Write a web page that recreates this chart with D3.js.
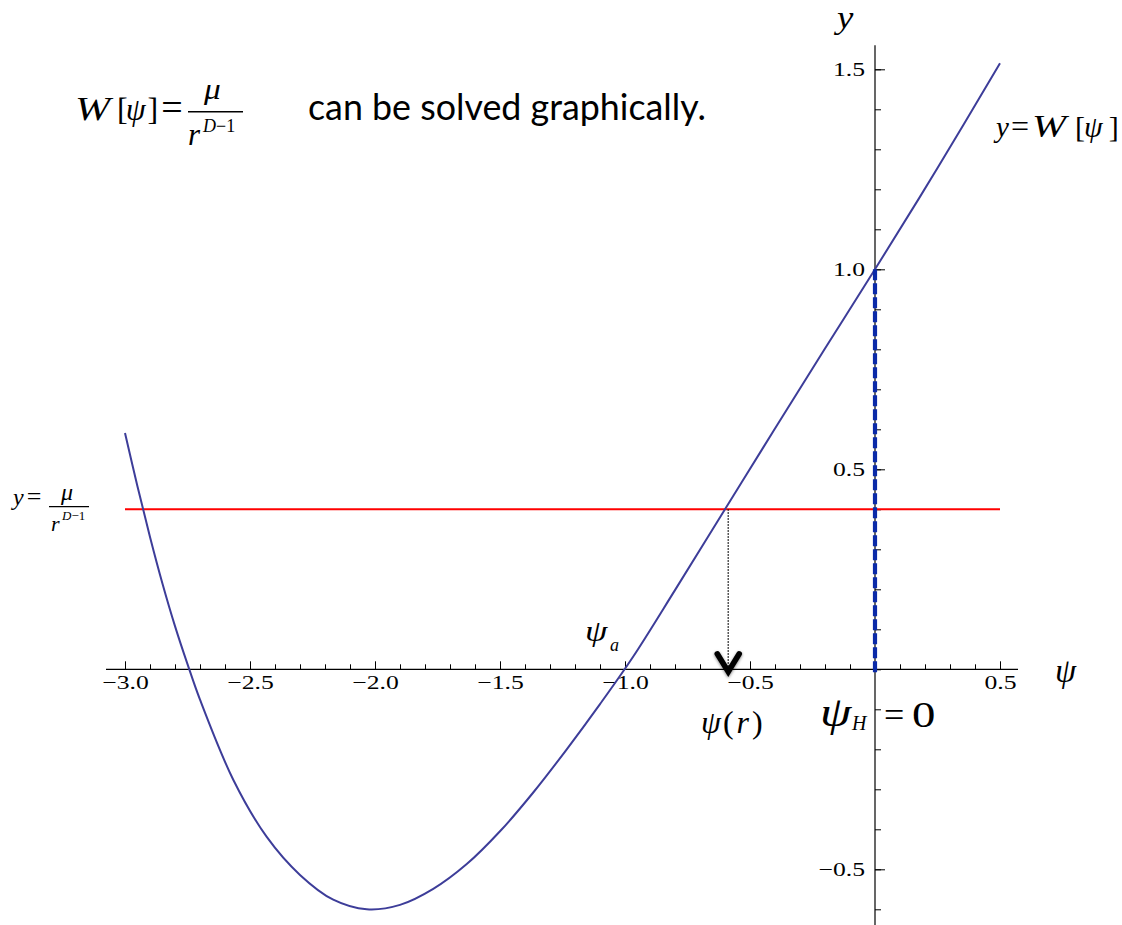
<!DOCTYPE html>
<html>
<head>
<meta charset="utf-8">
<script src="https://cdn.jsdelivr.net/npm/d3@7"></script>
<style>
  html, body { margin: 0; padding: 0; background: #ffffff; }
  svg { display: block; }
</style>
</head>
<body>
<svg id="chart" width="1122" height="925"></svg>
<script>
// W[ψ] sampled along the plotted range
const psiValues = [-3.000, -2.950, -2.900, -2.850, -2.800, -2.750, -2.700, -2.567, -2.433, -2.300,
                   -2.167, -2.033, -1.900, -1.767, -1.633, -1.500, -1.367, -1.233, -1.100, -0.967,
                   -0.800, -0.600, -0.400, -0.200, 0.000, 0.250, 0.500];
const wValues   = [0.591, 0.457, 0.331, 0.214, 0.108, 0.013, -0.076, -0.276, -0.419, -0.514,
                   -0.576, -0.600, -0.589, -0.549, -0.487, -0.405, -0.308, -0.200, -0.087, 0.032,
                   0.198, 0.400, 0.602, 0.802, 1.000, 1.253, 1.515];

// horizontal level y = μ / r^{D−1}
const levelValue = 0.4;
const levelSpan = [-3.0, 0.5];
// solution ψ(r) where W crosses the level, and the horizon ψ_H
const psiRoot = -0.587;
const psiHorizon = 0;
const horizonSpan = [-0.015, 1.0];

// axis ticks and extents
const xMajorTicks = [-3.0, -2.5, -2.0, -1.5, -1.0, -0.5, 0.5];
const xMinorTicks = d3.range(-30, 6).map(i => i / 10);
const yMajorTicks = [-0.5, 0.5, 1.0, 1.5];
const yMinorTicks = d3.range(-6, 16).map(i => i / 10);
const xAxisExtent = [-3.076, 0.572];
const yAxisExtent = [-0.64, 1.56];

const svg = d3.select("#chart");
const SERIF = "'Liberation Serif', 'Times New Roman', serif";
const LABEL_STRETCH = 1.35;

const x = d3.scaleLinear().domain([-3, 0.5]).range([125, 1000]);
const y = d3.scaleLinear().domain([0, 1]).range([669.3, 269.3]);

// ---- axes ----
const axes = svg.append("g").attr("class", "axes");

axes.append("line")
  .attr("x1", x(xAxisExtent[0])).attr("x2", x(xAxisExtent[1]))
  .attr("y1", y(0)).attr("y2", y(0))
  .attr("stroke", "#000").attr("stroke-width", 1.2);

axes.append("line")
  .attr("x1", x(0)).attr("x2", x(0))
  .attr("y1", y(yAxisExtent[0])).attr("y2", y(yAxisExtent[1]))
  .attr("stroke", "#000").attr("stroke-width", 1.2);

function styleAxis(g) {
  g.select(".domain").remove();
  g.selectAll(".tick line").attr("stroke", "#000").attr("stroke-width", 1);
  g.selectAll(".tick text")
    .attr("font-family", SERIF)
    .attr("font-size", 19)
    .attr("fill", "#000");
}

// x minor ticks (pointing up)
axes.append("g")
  .attr("transform", `translate(0,${y(0)})`)
  .call(d3.axisBottom(x).tickValues(xMinorTicks).tickSize(-5).tickFormat(""))
  .call(styleAxis);

// x major ticks with labels
axes.append("g")
  .attr("transform", `translate(0,${y(0)})`)
  .call(d3.axisBottom(x).tickValues(xMajorTicks).tickSize(-8).tickPadding(6)
        .tickFormat(d3.format(".1f")))
  .call(styleAxis)
  .call(g => g.selectAll(".tick text").attr("transform", `scale(${LABEL_STRETCH},1)`));

// y minor ticks (pointing right)
axes.append("g")
  .attr("transform", `translate(${x(0)},0)`)
  .call(d3.axisLeft(y).tickValues(yMinorTicks).tickSize(-6).tickFormat(""))
  .call(styleAxis);

// y major ticks with labels
axes.append("g")
  .attr("transform", `translate(${x(0)},0)`)
  .call(d3.axisLeft(y).tickValues(yMajorTicks).tickSize(-10)
        .tickFormat(d3.format(".1f")))
  .call(styleAxis)
  .call(g => g.selectAll(".tick text")
    .attr("x", -10 / LABEL_STRETCH)
    .attr("transform", `scale(${LABEL_STRETCH},1)`));

// ---- level line ----
svg.append("line")
  .attr("x1", x(levelSpan[0])).attr("x2", x(levelSpan[1]))
  .attr("y1", y(levelValue)).attr("y2", y(levelValue))
  .attr("stroke", "#ff0000").attr("stroke-width", 2);

// ---- W[ψ] curve ----
const curveData = psiValues.map((p, i) => [p, wValues[i]]);
svg.append("path")
  .datum(curveData)
  .attr("d", d3.line().x(d => x(d[0])).y(d => y(d[1])).curve(d3.curveCatmullRom.alpha(0.5)))
  .attr("fill", "none")
  .attr("stroke", "#3d3d99")
  .attr("stroke-width", 2);

// ---- horizon ψ_H = 0 (dashed) ----
svg.append("line")
  .attr("x1", x(psiHorizon)).attr("x2", x(psiHorizon))
  .attr("y1", y(horizonSpan[1])).attr("y2", y(horizonSpan[0]))
  .attr("stroke", "#0a2aa8").attr("stroke-width", 4.2)
  .attr("stroke-dasharray", "11,3");

// ---- dotted drop from the crossing to the axis ----
const tipX = x(psiRoot), tipY = y(0) + 3.5;
svg.append("line")
  .attr("x1", tipX).attr("x2", tipX)
  .attr("y1", y(levelValue)).attr("y2", tipY - 6)
  .attr("stroke", "#222").attr("stroke-width", 1.5)
  .attr("stroke-dasharray", "1.5,1.5");

// arrow head with soft shadow
const defs = svg.append("defs");
const f = defs.append("filter").attr("id", "soft").attr("x", "-50%").attr("y", "-50%")
  .attr("width", "200%").attr("height", "200%");
f.append("feGaussianBlur").attr("in", "SourceAlpha").attr("stdDeviation", 1.6).attr("result", "b");
f.append("feOffset").attr("in", "b").attr("dx", 0).attr("dy", 1).attr("result", "o");
f.append("feComponentTransfer").attr("in", "o").attr("result", "s")
  .append("feFuncA").attr("type", "linear").attr("slope", 0.5);
const fm = f.append("feMerge");
fm.append("feMergeNode").attr("in", "s");
fm.append("feMergeNode").attr("in", "SourceGraphic");

const chevron = `M${tipX - 11},${tipY - 19} L${tipX},${tipY - 1} L${tipX + 11},${tipY - 19}`;
svg.append("path")
  .attr("d", chevron)
  .attr("fill", "none")
  .attr("stroke", "#000")
  .attr("stroke-width", 5.5)
  .attr("stroke-linecap", "round")
  .attr("stroke-linejoin", "miter")
  .attr("filter", "url(#soft)");

// ---- typeset labels ----
// each piece: text or runs [text, italic, dx, size, shift], left x, baseline y, size, italic, stretch
function pieces(list) {
  const g = svg.append("g");
  list.forEach(p => {
    const t = g.append("text")
      .attr("transform", `translate(${p.x},${p.y}) scale(${p.sx || 1},1)`)
      .attr("font-family", SERIF)
      .attr("font-size", p.s)
      .attr("font-style", p.i ? "italic" : "normal")
      .attr("fill", "#000");
    if (Array.isArray(p.t)) {
      p.t.forEach(([str, it, dx, size, shift]) => {
        const span = t.append("tspan")
          .attr("font-style", it ? "italic" : "normal")
          .attr("dx", dx || 0)
          .text(str);
        if (size) span.attr("font-size", size);
        if (shift) span.attr("baseline-shift", shift);
      });
    } else {
      t.text(p.t);
    }
  });
  return g;
}
function bar(x1, x2, yy, w) {
  svg.append("line").attr("x1", x1).attr("x2", x2).attr("y1", yy).attr("y2", yy)
    .attr("stroke", "#000").attr("stroke-width", w);
}

// W[ψ] = μ / r^{D−1}
pieces([
  { t: "W", x: 75, y: 120, s: 33, i: true, sx: 1.28 },
  { t: [["[", false], ["ψ", true, -2], ["]", false, 2], ["=", false, 3, 38]], x: 117, y: 120, s: 32 },
  { t: "μ", x: 204, y: 99, s: 29, i: true, sx: 1.15 },
  { t: [["r", true], ["D", true, 3, 18, 13], ["−1", false, 0, 18, 13]], x: 188, y: 145, s: 31 }
]);
bar(188, 243, 111.7, 1.6);

// sentence
const sentence = svg.append("text")
  .attr("x", 308).attr("y", 120)
  .attr("font-family", "Lato, 'Open Sans', sans-serif")
  .attr("font-size", 32)
  .attr("fill", "#000")
  .text("can be solved graphically.");
const sw = sentence.node().getComputedTextLength();
sentence.attr("font-size", 32 * 398 / sw);

// y = μ / r^{D−1} beside the level line
pieces([
  { t: [["y", true], ["=", false, 3, 26]], x: 13, y: 505, s: 24 },
  { t: "μ", x: 61, y: 500, s: 24, i: true },
  { t: "r", x: 51, y: 531, s: 22, i: true },
  { t: [["D", true], ["−1", false]], x: 62, y: 520, s: 13 }
]);
bar(49, 89, 506.7, 1.3);

// y = W[ψ]
pieces([
  { t: [["y", true], ["=", false, 2, 32]], x: 996, y: 137, s: 29 },
  { t: "W", x: 1032, y: 137, s: 32, i: true, sx: 1.28 },
  { t: [["[", false], ["ψ", true, -1], ["]", false, 6]], x: 1075, y: 137, s: 30 }
]);

// axis titles
pieces([
  { t: "y", x: 837, y: 28, s: 32, i: true, sx: 1.15 },
  { t: "ψ", x: 1055, y: 682, s: 34, i: true }
]);

// ψ_a
pieces([
  { t: "ψ", x: 585, y: 641, s: 30, i: true, sx: 1.2 },
  { t: "a", x: 610, y: 651, s: 18, i: true }
]);

// ψ(r)
pieces([
  { t: [["ψ", true], ["(", false, 2], ["r", true, 3], [")", false, 3]], x: 701, y: 733, s: 32 }
]);

// ψ_H = 0
pieces([
  { t: "ψ", x: 820, y: 726, s: 42, i: true, sx: 1.2 },
  { t: "H", x: 852, y: 730, s: 20, i: true },
  { t: "=", x: 884, y: 727, s: 36 },
  { t: "0", x: 912, y: 727, s: 36, sx: 1.3 }
]);
</script>
</body>
</html>
